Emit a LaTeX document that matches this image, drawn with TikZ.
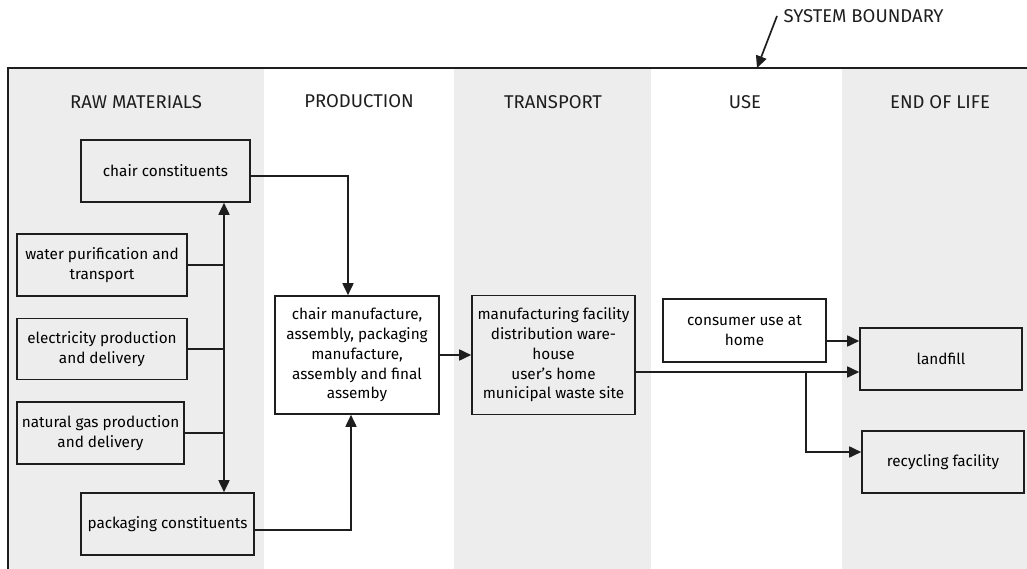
\documentclass[tikz,border=0pt]{standalone}
\usepackage{fontspec}
\setmainfont{Fira Sans}
\usetikzlibrary{arrows.meta}
\definecolor{lane}{HTML}{EDEDED}
\definecolor{ink}{HTML}{1E1E1E}
\begin{document}
\begin{tikzpicture}[x=1pt,y=-1pt,
  box/.style={draw=ink,line width=1.6pt,inner sep=2pt,align=center,
    font=\fontsize{15.3}{19.8}\selectfont},
  head/.style={font=\fontsize{18.5}{22}\selectfont,text=ink},
  conn/.style={draw=ink,line width=1.7pt},
  tip/.tip={Triangle[length=12pt,width=11pt]},
  arr/.style={conn,-tip},
  arrboth/.style={conn,tip-tip}]
\useasboundingbox (0,0) rectangle (1027,569);
% lanes
\fill[lane] (9,68) rectangle (264,569);
\fill[lane] (454,68) rectangle (651,569);
\fill[lane] (842,68) rectangle (1027,569);
% system boundary frame
\draw[ink,line width=1.5pt] (8,569) -- (8,68) -- (1027,68);
% lane headings
\node[head] (hraw) at (136,102) {RAW MATERIALS};
\node[head] (hprod) at (359,101) {PRODUCTION};
\node[head] (htr) at (553,102) {TRANSPORT};
\node[head] (huse) at (745,102) {USE};
\node[head] (heol) at (940,102) {END OF LIFE};
% boundary label
\node[head,anchor=west] (sb) at (780,16) {SYSTEM BOUNDARY};
\coordinate (sbtip) at (757,68);
\draw[arr] ([xshift=-3pt]sb.west) -- (sbtip);
% boxes
\node[box,minimum width=169pt,minimum height=62pt] (cc) at (165.5,171) {chair constituents};
\node[box,minimum width=170pt,minimum height=62pt] (wp) at (102,265) {water purification and\\transport};
\node[box,minimum width=170pt,minimum height=61pt] (ep) at (102,349) {electricity production\\and delivery};
\node[box,minimum width=167pt,minimum height=62pt] (ng) at (100.5,433) {natural gas production\\and delivery};
\node[box,minimum width=173pt,minimum height=62pt] (pk) at (167.5,524) {packaging constituents};
\node[box,minimum width=164pt,minimum height=118pt] (man) at (357,355) {chair manufacture,\\assembly, packaging\\manufacture,\\assembly and final\\assemby};
\node[box,minimum width=163pt,minimum height=119pt] (tr) at (553.5,355) {manufacturing facility\\distribution ware-\\house\\user’s home\\municipal waste site};
\node[box,minimum width=163pt,minimum height=63pt] (cu) at (744.5,330.5) {consumer use at\\home};
\node[box,minimum width=162pt,minimum height=62pt] (lf) at (941,359) {landfill};
\node[box,minimum width=162pt,minimum height=62pt] (rc) at (943,462) {recycling facility};
% raw material supply bus
\coordinate (bx) at (224,0);
\draw[arrboth] (cc.south -| bx) -- (pk.north -| bx);
\draw[conn] (wp.east) -- (wp.east -| bx);
\draw[conn] (ep.east) -- (ep.east -| bx);
\draw[conn] (ng.east) -- (ng.east -| bx);
% flows into production
\draw[arr] ([yshift=-5pt]cc.east) -| ([xshift=-9pt]man.north);
\draw[arr] ([yshift=-6pt]pk.east) -| ([xshift=-6pt]man.south);
% production to transport
\draw[arr] (man.east) -- (tr.west);
% end of life flows
\draw[arr] ([yshift=-10.5pt]cu.east) -- ([yshift=-10.5pt]cu.east -| lf.west);
\draw[arr] ([yshift=-17pt]tr.east) -- ([yshift=-17pt]tr.east -| lf.west);
\coordinate (br) at (806,372);
\draw[arr] (br) |- ([yshift=10pt]rc.west);
\end{tikzpicture}
\end{document}
